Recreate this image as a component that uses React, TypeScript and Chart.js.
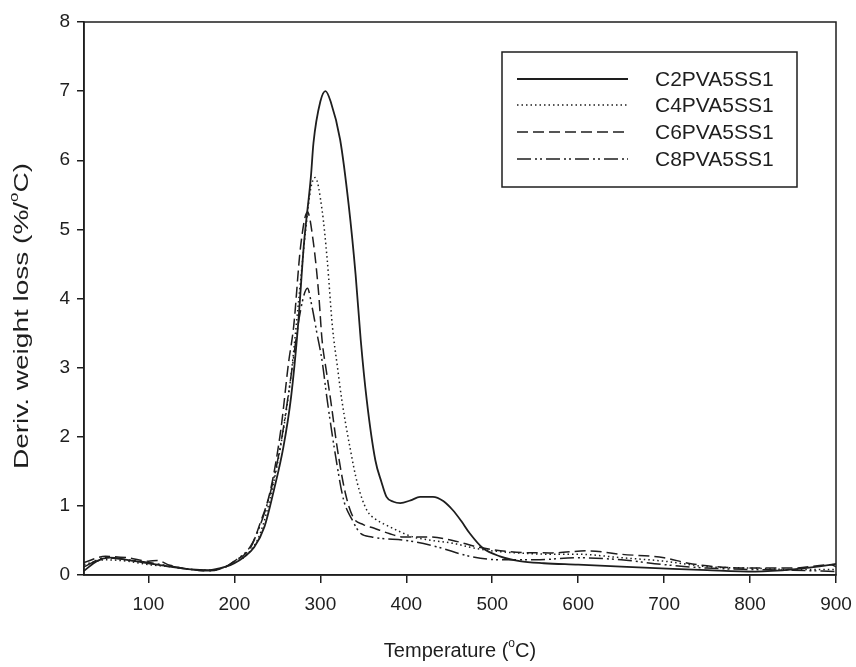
import { useEffect, useRef } from 'react';
import { Chart, registerables } from 'chart.js';
Chart.register(...registerables);

const X_TICKS = [100, 200, 300, 400, 500, 600, 700, 800, 900];
const Y_TICKS = [0, 1, 2, 3, 4, 5, 6, 7, 8];
const SERIES_NAMES = ['C2PVA5SS1', 'C4PVA5SS1', 'C6PVA5SS1', 'C8PVA5SS1'];

const C2_T = [25, 40, 55, 75, 100, 125, 150, 170, 190, 200, 210, 223, 235, 246, 257, 266, 274, 281, 289, 292, 300, 306, 312, 323, 333, 341, 347, 354, 364, 371, 377, 385, 393, 405, 416, 431, 443, 454, 464, 474, 489, 509, 532, 560, 600, 650, 690, 750, 806, 850, 895, 900];
const C2_V = [0.06, 0.2, 0.25, 0.22, 0.17, 0.12, 0.08, 0.07, 0.12, 0.17, 0.25, 0.4, 0.7, 1.23, 1.85, 2.58, 3.6, 4.8, 5.76, 6.25, 6.85, 7.0, 6.85, 6.3, 5.35, 4.35, 3.4, 2.53, 1.66, 1.35, 1.13, 1.06, 1.04, 1.08, 1.13, 1.13, 1.07, 0.94, 0.78, 0.6, 0.39, 0.27, 0.2, 0.17, 0.15, 0.12, 0.1, 0.07, 0.05, 0.08, 0.15, 0.16];

const C4_T = [25, 50, 75, 100, 125, 150, 170, 190, 200, 215, 230, 245, 257, 266, 275, 283, 289, 294, 302, 308, 314, 320, 325, 335, 343, 354, 365, 377, 392, 408, 430, 454, 475, 493, 528, 570, 600, 650, 700, 750, 800, 850, 900];
const C4_V = [0.15, 0.22, 0.2, 0.15, 0.12, 0.08, 0.07, 0.12, 0.18, 0.3, 0.6, 1.3, 2.1, 2.9, 4.0, 5.0, 5.6, 5.75, 5.28, 4.56, 3.6, 3.0, 2.53, 1.81, 1.33, 0.94, 0.8, 0.72, 0.63, 0.55, 0.5, 0.46, 0.4, 0.36, 0.32, 0.3, 0.3, 0.25, 0.2, 0.12, 0.1, 0.08, 0.08];

const C6_T = [25, 50, 75, 100, 110, 125, 150, 170, 190, 200, 219, 230, 242, 254, 263, 269, 277, 285, 292, 298, 302, 307, 312, 320, 329, 338, 350, 362, 380, 396, 427, 454, 485, 528, 570, 610, 650, 700, 728, 760, 800, 850, 894, 900];
const C6_V = [0.18, 0.27, 0.25, 0.2, 0.21, 0.14, 0.08, 0.06, 0.12, 0.2, 0.4, 0.75, 1.23, 2.1, 3.07, 3.6, 4.75, 5.25, 4.8, 4.08, 3.4, 2.95, 2.53, 1.81, 1.19, 0.84, 0.73, 0.68, 0.6, 0.55, 0.55, 0.5, 0.4, 0.33, 0.32, 0.35, 0.3, 0.25, 0.17, 0.12, 0.1, 0.1, 0.15, 0.12];

const C8_T = [25, 50, 75, 100, 125, 150, 170, 190, 200, 219, 230, 242, 254, 265, 277, 285, 290, 296, 302, 308, 318, 327, 337, 347, 360, 370, 400, 435, 474, 509, 550, 600, 650, 700, 750, 800, 850, 900];
const C8_V = [0.12, 0.25, 0.22, 0.18, 0.13, 0.08, 0.06, 0.12, 0.2, 0.42, 0.72, 1.2, 1.9, 2.8, 3.83, 4.15, 3.9, 3.5, 3.1, 2.53, 1.7, 1.09, 0.8, 0.6, 0.55, 0.53, 0.5, 0.41, 0.27, 0.22, 0.22, 0.25, 0.22, 0.15, 0.1, 0.08, 0.07, 0.05];

const INK = '#1e1e1e';
const FONT = '"Liberation Sans", Arial, sans-serif';
const DASHES: number[][] = [[], [1.5, 3], [11, 5], [14, 4, 2, 3, 2, 4]];

const toPts = (t: number[], v: number[]) => t.map((x, i) => ({ x, y: v[i] }));

const framePlugin = {
  id: 'frame',
  afterDatasetsDraw(chart: any) {
    const { ctx, chartArea: a } = chart;
    ctx.save();
    ctx.strokeStyle = INK;
    ctx.lineWidth = 1.5;
    ctx.setLineDash([]);
    ctx.strokeRect(a.left, a.top, a.right - a.left, a.bottom - a.top);
    ctx.restore();
  },
};

const legendPlugin = {
  id: 'customLegend',
  afterDraw(chart: any) {
    const { ctx } = chart;
    ctx.save();
    ctx.fillStyle = '#ffffff';
    ctx.fillRect(502, 52, 295, 135);
    ctx.strokeStyle = INK;
    ctx.lineWidth = 1.5;
    ctx.setLineDash([]);
    ctx.strokeRect(502, 52, 295, 135);
    const rows = [79, 105, 132, 159];
    ctx.font = `21px ${FONT}`;
    ctx.textBaseline = 'middle';
    ctx.textAlign = 'left';
    ctx.fillStyle = INK;
    SERIES_NAMES.forEach((name, i) => {
      const y = rows[i];
      ctx.beginPath();
      ctx.setLineDash(DASHES[i]);
      ctx.lineWidth = i === 0 ? 1.8 : 1.5;
      ctx.moveTo(517, y);
      ctx.lineTo(628, y);
      ctx.stroke();
      ctx.setLineDash([]);
      ctx.fillText(name, 655, y + 1);
    });
    ctx.restore();
  },
};

const drawWithSup = (ctx: any, parts: [string, boolean][], cx: number, cy: number, size: number) => {
  const big = `${size}px ${FONT}`;
  const small = `${Math.round(size * 0.62)}px ${FONT}`;
  let total = 0;
  parts.forEach(([s, sup]) => {
    ctx.font = sup ? small : big;
    total += ctx.measureText(s).width;
  });
  let x = cx - total / 2;
  parts.forEach(([s, sup]) => {
    ctx.font = sup ? small : big;
    ctx.fillText(s, x, sup ? cy - size * 0.38 : cy);
    x += ctx.measureText(s).width;
  });
};

const titlePlugin = {
  id: 'titles',
  afterDraw(chart: any) {
    const { ctx } = chart;
    ctx.save();
    ctx.fillStyle = INK;
    ctx.textBaseline = 'middle';
    ctx.textAlign = 'left';
    drawWithSup(ctx, [['Temperature (', false], ['o', true], ['C)', false]], 460, 651, 20);
    ctx.translate(22, 316);
    ctx.rotate(-Math.PI / 2);
    ctx.scale(1.4, 1);
    drawWithSup(ctx, [['Deriv. weight loss (%/', false], ['o', true], ['C)', false]], 0, 0, 20);
    ctx.restore();
  },
};

export default function App() {
  const ref = useRef<HTMLCanvasElement>(null);
  useEffect(() => {
    if (!ref.current) return;
    const series = [
      toPts(C2_T, C2_V),
      toPts(C4_T, C4_V),
      toPts(C6_T, C6_V),
      toPts(C8_T, C8_V),
    ];
    const chart = new Chart(ref.current, {
      type: 'line',
      data: {
        datasets: series.map((d, i) => ({
          label: SERIES_NAMES[i],
          data: d,
          borderColor: INK,
          borderWidth: i === 0 ? 1.8 : 1.5,
          borderDash: DASHES[i],
          pointRadius: 0,
          fill: false,
          cubicInterpolationMode: 'monotone' as const,
        })),
      },
      options: {
        animation: false,
        responsive: false,
        layout: { padding: { left: 0, top: 22, right: 20, bottom: 0 } },
        plugins: { legend: { display: false }, tooltip: { enabled: false } },
        scales: {
          x: {
            type: 'linear',
            min: 25,
            max: 900,
            afterBuildTicks: (s: any) => { s.ticks = X_TICKS.map((v) => ({ value: v })); },
            afterFit: (s: any) => { s.height = 92; s.paddingRight = 0; },
            grid: { drawOnChartArea: false, color: INK, tickLength: 8, lineWidth: 1.5 },
            border: { color: INK, width: 1.5 },
            ticks: { color: INK, font: { family: FONT, size: 19 }, padding: 10, maxRotation: 0 },
          },
          y: {
            type: 'linear',
            min: 0,
            max: 8,
            afterBuildTicks: (s: any) => { s.ticks = Y_TICKS.map((v) => ({ value: v })); },
            afterFit: (s: any) => { s.width = 84; s.paddingTop = 0; },
            grid: { drawOnChartArea: false, color: INK, tickLength: 7, lineWidth: 1.5 },
            border: { color: INK, width: 1.5 },
            ticks: { color: INK, font: { family: FONT, size: 19 }, padding: 7 },
          },
        },
      },
      plugins: [framePlugin, legendPlugin, titlePlugin],
    });
    return () => chart.destroy();
  }, []);
  return (
    <div style={{ position: 'fixed', left: 0, top: 0, width: 856, height: 667, background: '#fff' }}>
      <canvas ref={ref} width={856} height={667} style={{ width: 856, height: 667 }} />
    </div>
  );
}
